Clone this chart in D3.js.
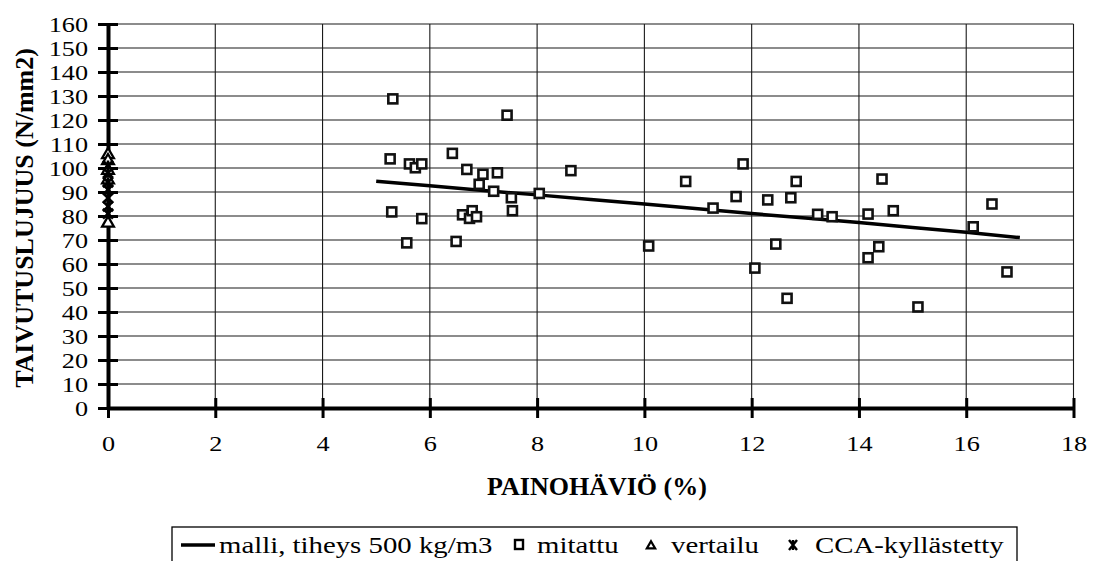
<!DOCTYPE html>
<html>
<head>
<meta charset="utf-8">
<script src="https://cdn.jsdelivr.net/npm/d3@7"></script>
</head>
<body style="margin:0;background:#fff">
<svg id="chart" width="1094" height="561"></svg>
<script>
// Axis ticks
const xTicks = [0, 2, 4, 6, 8, 10, 12, 14, 16, 18];
const yTicks = [0, 10, 20, 30, 40, 50, 60, 70, 80, 90, 100, 110, 120, 130, 140, 150, 160];

// Model curve: density 500 kg/m3
const modelX = [5, 6, 7, 8, 9, 10, 11, 12, 13, 14, 15, 16, 17];
const modelY = [94.5, 92.6, 90.6, 88.8, 86.9, 85.0, 83.0, 81.0, 79.2, 77.3, 75.2, 73.2, 71.0];

// Measured specimens
const mitattuX = [5.31, 5.26, 5.29, 5.57, 5.62, 5.73, 5.85, 5.85, 6.42, 6.49, 6.61, 6.69, 6.74, 6.79, 6.87,
  6.92, 6.99, 7.19, 7.26, 7.44, 7.52, 7.54, 8.04, 8.63, 10.08, 10.77, 11.28, 11.71, 11.84, 12.06, 12.30,
  12.45, 12.66, 12.73, 12.83, 13.23, 13.50, 14.17, 14.17, 14.37, 14.43, 14.64, 15.10, 16.13, 16.48, 16.76];
const mitattuY = [128.8, 103.8, 81.7, 68.8, 101.7, 100.1, 101.7, 78.9, 106.1, 69.4, 80.5, 99.4, 79.0, 82.2, 79.7,
  93.2, 97.4, 90.3, 98.0, 122.0, 87.6, 82.2, 89.4, 98.9, 67.5, 94.4, 83.3, 88.1, 101.7, 58.3, 86.7,
  68.3, 45.7, 87.6, 94.4, 80.7, 79.7, 80.8, 62.6, 67.2, 95.4, 82.2, 42.1, 75.5, 85.0, 56.7];

// Reference specimens (zero weight loss)
const vertailuY = [105.5, 103, 99, 95, 77];
// CCA-impregnated specimens (zero weight loss)
const ccaY = [101, 98, 94, 91, 87.5, 84, 81];

const legendLabels = ["malli, tiheys 500 kg/m3", "mitattu", "vertailu", "CCA-kyllästetty"];

const FONT = '"Liberation Serif"';
const svg = d3.select("#chart");
const x = d3.scaleLinear().domain([0, 18]).range([108, 1073.5]);
const y = d3.scaleLinear().domain([0, 160]).range([408, 24]);

// Grid
const grid = svg.append("g").attr("stroke", "#1a1a1a").attr("stroke-width", 1.1);
grid.selectAll("line.h").data(yTicks.filter(d => d > 0)).join("line")
  .attr("x1", x(0)).attr("x2", x(18))
  .attr("y1", d => y(d)).attr("y2", d => y(d));
grid.selectAll("line.v").data(xTicks.filter(d => d > 0)).join("line")
  .attr("x1", d => x(d)).attr("x2", d => x(d))
  .attr("y1", y(0)).attr("y2", y(160));

// Model line
const line = d3.line().x((d, i) => x(modelX[i])).y(d => y(d));
svg.append("path").datum(modelY)
  .attr("d", line).attr("fill", "none").attr("stroke", "#000").attr("stroke-width", 3.5);

// Measured squares
svg.append("g").selectAll("rect").data(mitattuX).join("rect")
  .attr("x", (d) => x(d) - 4.5)
  .attr("y", (d, i) => y(mitattuY[i]) - 4.5)
  .attr("width", 9).attr("height", 9)
  .attr("fill", "#fff").attr("stroke", "#111").attr("stroke-width", 2.6);

// Axes with crossing ticks; labels slightly widened like the printed figure
const SX = 1.22;
const TICK_FS = 21.5;
const yAxis = d3.axisLeft(y).tickValues(yTicks).tickSize(10).tickSizeOuter(0);
const gy = svg.append("g").attr("transform", `translate(${x(0)},0)`).call(yAxis);
gy.attr("font-family", null).attr("font-size", null);
gy.select(".domain").attr("stroke-width", 4).attr("stroke", "#000");
gy.selectAll(".tick line").attr("x1", 10).attr("x2", -10).attr("stroke-width", 3);
gy.selectAll(".tick text")
  .style("font-family", FONT).attr("font-size", TICK_FS).attr("fill", "#000")
  .attr("x", -20 / SX).attr("dy", "0.34em").attr("transform", `scale(${SX},1)`);

const xAxis = d3.axisBottom(x).tickValues(xTicks).tickSize(10).tickSizeOuter(0);
const gx = svg.append("g").attr("transform", `translate(0,${y(0)})`).call(xAxis);
gx.attr("font-family", null).attr("font-size", null);
gx.select(".domain").attr("stroke-width", 4).attr("stroke", "#000");
gx.selectAll(".tick line").attr("y1", -10).attr("y2", 10).attr("stroke-width", 3);
gx.selectAll(".tick text")
  .style("font-family", FONT).attr("font-size", TICK_FS).attr("fill", "#000")
  .attr("y", 28).attr("transform", `scale(${SX},1)`);

// Reference triangles and CCA stars at zero weight loss
const tri = d3.symbol().type(d3.symbolTriangle).size(60);
svg.append("g").selectAll("path").data(vertailuY).join("path")
  .attr("transform", d => `translate(${x(0)},${y(d)})`)
  .attr("d", tri).attr("fill", "#fff").attr("stroke", "#000").attr("stroke-width", 2.3);
const star = svg.append("g").attr("stroke", "#000").attr("stroke-width", 2.6).attr("fill", "none");
ccaY.forEach(v => {
  const cx = x(0), cy = y(v);
  star.append("path").attr("d", `M${cx - 5},${cy - 5}L${cx + 5},${cy + 5}M${cx - 5},${cy + 5}L${cx + 5},${cy - 5}M${cx},${cy - 5}L${cx},${cy + 5}`);
});

// Axis titles
svg.append("text").attr("x", 597).attr("y", 495).attr("text-anchor", "middle")
  .style("font-family", FONT).attr("font-size", 26).attr("font-weight", "bold").text("PAINOHÄVIÖ (%)");
svg.append("text").attr("transform", "translate(33,218) rotate(-90)").attr("text-anchor", "middle")
  .style("font-family", FONT).attr("font-size", 26).attr("font-weight", "bold").text("TAIVUTUSLUJUUS (N/mm2)");

// Legend
const lg = svg.append("g");
lg.append("rect").attr("x", 172).attr("y", 527).attr("width", 845).attr("height", 60)
  .attr("fill", "#fff").attr("stroke", "#000").attr("stroke-width", 1.3);
lg.append("line").attr("x1", 181).attr("x2", 215).attr("y1", 545).attr("y2", 545)
  .attr("stroke", "#000").attr("stroke-width", 3.5);
lg.append("rect").attr("x", 515).attr("y", 540).attr("width", 8).attr("height", 9)
  .attr("fill", "#fff").attr("stroke", "#000").attr("stroke-width", 2.4);
lg.append("path").attr("transform", "translate(651,546)")
  .attr("d", d3.symbol().type(d3.symbolTriangle).size(30)).attr("fill", "#fff").attr("stroke", "#000").attr("stroke-width", 2.2);
lg.append("path").attr("d", "M789,540L797,550M789,550L797,540M793,540L793,550")
  .attr("stroke", "#000").attr("stroke-width", 2.4).attr("fill", "none");
const LSX = 1.2;
const legendX = [219, 537, 671, 815];
lg.selectAll("text").data(legendLabels).join("text")
  .attr("x", (d, i) => legendX[i] / LSX).attr("y", 553)
  .attr("transform", `scale(${LSX},1)`)
  .style("font-family", FONT).attr("font-size", 24).attr("fill", "#000").text(d => d);
</script>
</body>
</html>
